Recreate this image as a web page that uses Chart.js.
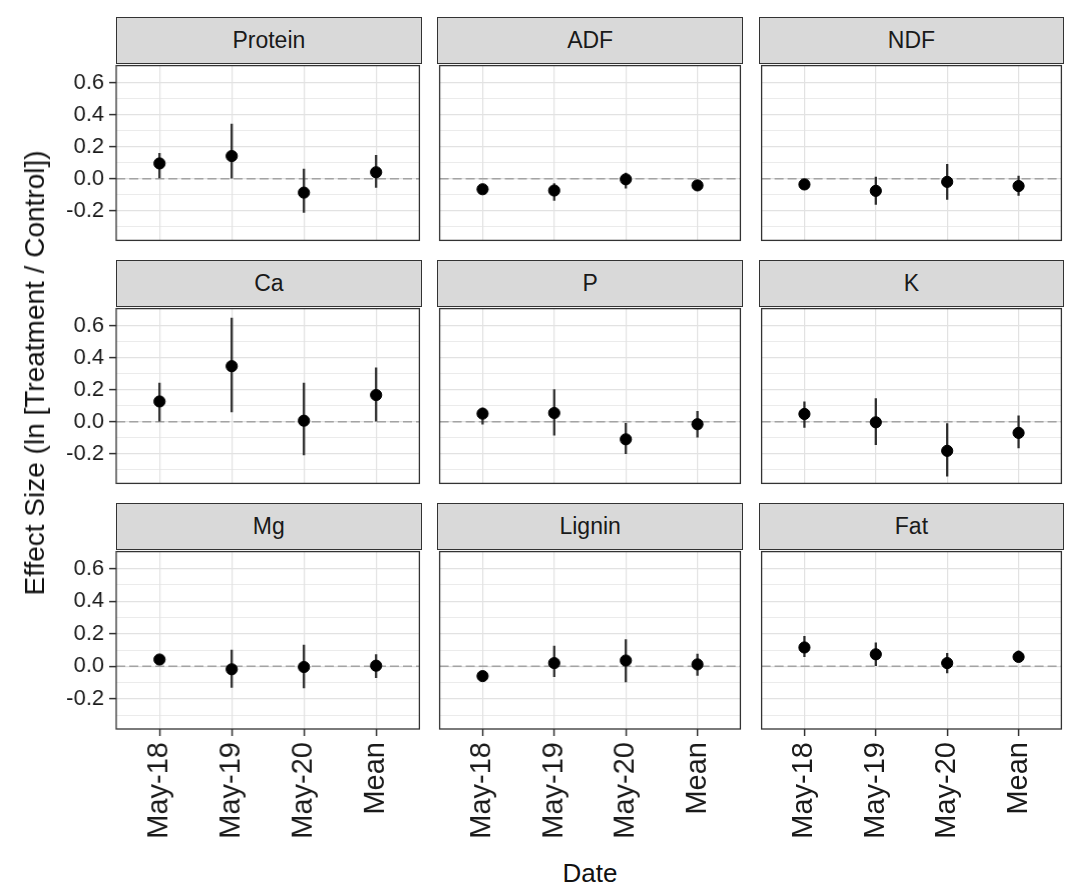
<!DOCTYPE html>
<html>
<head>
<meta charset="utf-8">
<script src="https://cdn.jsdelivr.net/npm/chart.js@4.4.1/dist/chart.umd.min.js"></script>
<style>
  body { margin: 0; background: #fff; font-family: "Liberation Sans", Arial, sans-serif; }
  #wrap { position: relative; width: 1084px; height: 895px; overflow: hidden; }
  canvas { position: absolute; }
  .strip {
    position: absolute; box-sizing: border-box;
    background: #d9d9d9; border: 1.2px solid #333;
    color: #1a1a1a; font-size: 23px; text-align: center;
  }
  .axis-title { position: absolute; color: #111; white-space: nowrap; }
</style>
</head>
<body>
<div id="wrap"></div>
<script>
// facets, in reading order
const nutrients = ['Protein', 'ADF', 'NDF', 'Ca', 'P', 'K', 'Mg', 'Lignin', 'Fat'];
const dates = ['May-18', 'May-19', 'May-20', 'Mean'];

// effect size (ln ratio) per nutrient, one value per date
const estimates = [
  [0.095, 0.141, -0.087, 0.040],
  [-0.066, -0.074, -0.004, -0.042],
  [-0.036, -0.076, -0.020, -0.046],
  [0.126, 0.346, 0.006, 0.166],
  [0.050, 0.054, -0.110, -0.016],
  [0.048, -0.004, -0.182, -0.070],
  [0.042, -0.018, -0.004, 0.004],
  [-0.060, 0.020, 0.036, 0.012],
  [0.116, 0.074, 0.020, 0.058]
];
const lowerCI = [
  [0.005, 0.000, -0.210, -0.055],
  [-0.090, -0.136, -0.060, -0.065],
  [-0.060, -0.160, -0.130, -0.104],
  [0.000, 0.060, -0.208, 0.000],
  [-0.016, -0.084, -0.200, -0.096],
  [-0.036, -0.144, -0.340, -0.164],
  [0.020, -0.130, -0.133, -0.069],
  [-0.085, -0.064, -0.096, -0.056],
  [0.060, 0.004, -0.040, 0.030]
];
const upperCI = [
  [0.158, 0.340, 0.060, 0.145],
  [-0.045, -0.030, 0.035, -0.020],
  [-0.012, 0.010, 0.090, 0.016],
  [0.240, 0.646, 0.240, 0.336],
  [0.085, 0.200, -0.010, 0.064],
  [0.124, 0.144, -0.012, 0.036],
  [0.065, 0.100, 0.130, 0.073],
  [-0.035, 0.124, 0.164, 0.076],
  [0.184, 0.144, 0.080, 0.096]
];

const yTicks = [-0.3, -0.2, -0.1, 0.0, 0.1, 0.2, 0.3, 0.4, 0.5, 0.6];
const yMajor = [-0.2, 0.0, 0.2, 0.4, 0.6];
const refLine = 0;

// layout of the facet grid (px)
const colLeft = [116, 437.3, 758.6];
const panelW = 305.7;
const rowTop = [63, 305.8, 548.6];
const panelH = 180.4;
const stripH = 46;
const yAxisW = 76;
const xAxisH = 121;
const pad = 4;

const isMajor = v => yMajor.some(m => Math.abs(m - v) < 1e-6);

const panelBorder = {
  id: 'panelBorder',
  afterDraw(chart) {
    const a = chart.chartArea, ctx = chart.ctx;
    ctx.save();
    ctx.strokeStyle = '#333';
    ctx.lineWidth = 1.3;
    ctx.strokeRect(a.left, a.top, a.right - a.left, a.bottom - a.top);
    ctx.restore();
  }
};

const wrap = document.getElementById('wrap');

nutrients.forEach((name, i) => {
  const row = Math.floor(i / 3), col = i % 3;
  const firstCol = col === 0, lastRow = row === 2;

  const strip = document.createElement('div');
  strip.className = 'strip';
  strip.style.left = colLeft[col] + 'px';
  strip.style.top = (rowTop[row] - stripH) + 'px';
  strip.style.width = panelW + 'px';
  strip.style.height = (stripH + 1) + 'px';
  strip.style.lineHeight = (stripH - 2) + 'px';
  strip.textContent = name;
  wrap.appendChild(strip);

  const leftW = firstCol ? yAxisW : pad;
  const bottomH = lastRow ? xAxisH : pad;
  const w = panelW + leftW + pad;
  const h = panelH + bottomH + pad;

  const cv = document.createElement('canvas');
  cv.style.left = (colLeft[col] - leftW) + 'px';
  cv.style.top = (rowTop[row] - pad) + 'px';
  cv.style.width = w + 'px';
  cv.style.height = h + 'px';
  wrap.appendChild(cv);

  const points = dates.map((d, k) => ({ x: k, y: estimates[i][k] }));
  const bars = dates.map((d, k) => ({ x: k, y: [lowerCI[i][k], upperCI[i][k]] }));

  new Chart(cv, {
    type: 'scatter',
    data: {
      datasets: [
        {
          type: 'line',
          data: [{ x: -0.6, y: refLine }, { x: 3.6, y: refLine }],
          borderColor: '#a3a3a3',
          borderWidth: 1.5,
          borderDash: [9, 4],
          pointRadius: 0,
          order: 3
        },
        {
          type: 'bar',
          data: bars,
          backgroundColor: '#2b2b2b',
          barThickness: 1.6,
          borderWidth: 0,
          order: 2
        },
        {
          type: 'scatter',
          data: points,
          backgroundColor: '#000',
          borderColor: '#000',
          pointRadius: 5.6,
          pointHoverRadius: 5.6,
          order: 1
        }
      ]
    },
    options: {
      responsive: false,
      animation: false,
      devicePixelRatio: 1,
      layout: { padding: { top: pad, right: pad, left: 0, bottom: 0 } },
      plugins: { legend: { display: false }, tooltip: { enabled: false } },
      scales: {
        x: {
          type: 'linear',
          min: -0.6,
          max: 3.6,
          offset: false,
          afterBuildTicks: s => { s.ticks = dates.map((d, k) => ({ value: k })); },
          afterFit: s => { s.height = bottomH; s.paddingLeft = 0; s.paddingRight = 0; },
          border: { display: false },
          grid: {
            offset: false,
            color: '#e2e2e2',
            lineWidth: 1.2,
            drawTicks: lastRow,
            tickLength: 7,
            tickColor: '#333',
            tickWidth: 1.5
          },
          ticks: {
            display: lastRow,
            autoSkip: false,
            minRotation: 90,
            maxRotation: 90,
            padding: 6,
            color: '#1a1a1a',
            font: { family: 'Liberation Sans', size: 29 },
            callback: v => dates[v]
          }
        },
        y: {
          type: 'linear',
          min: -0.385,
          max: 0.705,
          afterBuildTicks: s => { s.ticks = yTicks.map(v => ({ value: v })); },
          afterFit: s => { s.width = leftW; s.paddingTop = 0; s.paddingBottom = 0; },
          border: { display: false },
          grid: {
            color: '#e2e2e2',
            lineWidth: c => (c.tick && isMajor(c.tick.value)) ? 1.2 : 0.7,
            drawTicks: firstCol,
            tickLength: 7,
            tickColor: c => (c.tick && isMajor(c.tick.value)) ? '#333' : 'rgba(0,0,0,0)',
            tickWidth: 1.5
          },
          ticks: {
            display: firstCol,
            autoSkip: false,
            padding: 5,
            color: '#1a1a1a',
            font: { family: 'Liberation Sans', size: 22 },
            callback: v => isMajor(v) ? v.toFixed(1) : ''
          }
        }
      }
    },
    plugins: [panelBorder]
  });
});

// axis titles
const yTitle = document.createElement('div');
yTitle.className = 'axis-title';
yTitle.textContent = 'Effect Size (ln [Treatment / Control])';
yTitle.style.fontSize = '28px';
yTitle.style.left = '35px';
yTitle.style.top = '373px';
yTitle.style.transform = 'translate(-50%, -50%) rotate(-90deg)';
wrap.appendChild(yTitle);

const xTitle = document.createElement('div');
xTitle.className = 'axis-title';
xTitle.textContent = 'Date';
xTitle.style.fontSize = '26px';
xTitle.style.left = '590px';
xTitle.style.top = '873px';
xTitle.style.transform = 'translate(-50%, -50%)';
wrap.appendChild(xTitle);
</script>
</body>
</html>
